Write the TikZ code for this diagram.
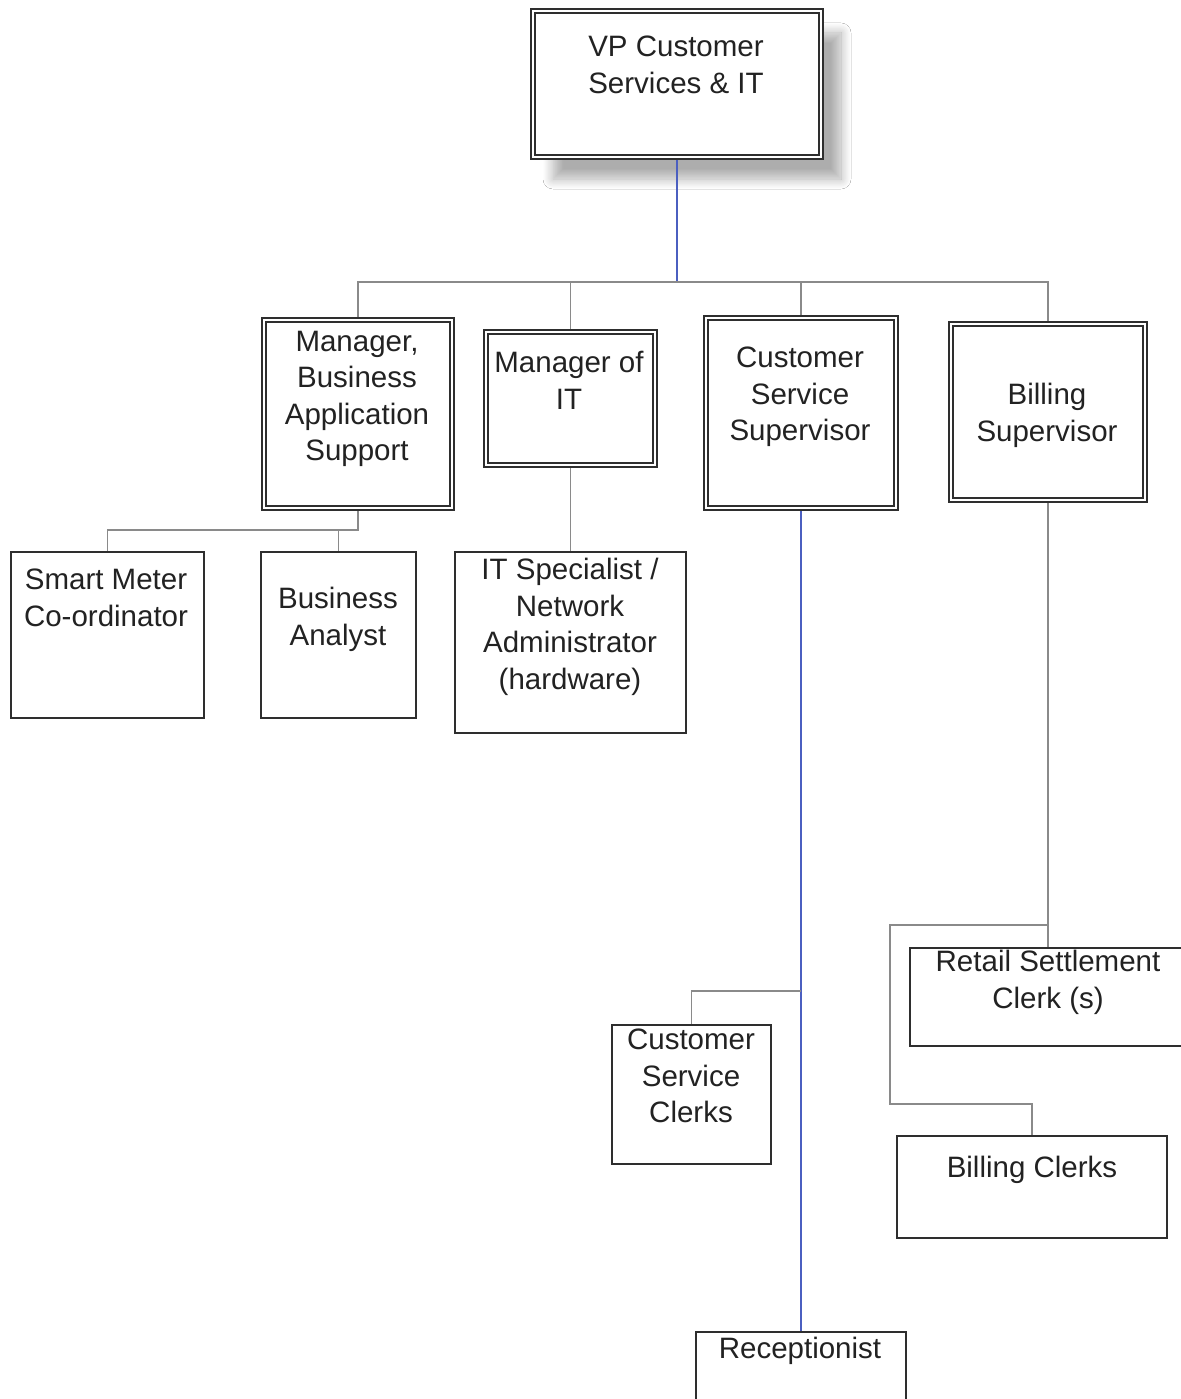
\documentclass[tikz,border=0pt]{standalone}
\usepackage{fontspec}
\setmainfont{Liberation Sans}
\usetikzlibrary{shadows.blur}
\definecolor{ink}{HTML}{222222}
\definecolor{edge}{HTML}{2E2E2E}
\definecolor{wiregrey}{HTML}{8A8A8A}
\definecolor{wireblue}{HTML}{4B5FC0}

\begin{document}
\begin{tikzpicture}[x=1pt,y=-1pt,
  post/.style={rectangle, draw=edge, line width=1.5pt, fill=white, inner sep=0pt},
  senior/.style={post, double=white, double distance=2.6pt, line width=1.7pt, outer sep=3pt},
  caption/.style={inner sep=0pt, align=center, text=ink, anchor=north,
                  font=\fontsize{29.5}{36.5}\selectfont},
  greyline/.style={draw=wiregrey, line width=1.6pt},
  blueline/.style={draw=wireblue, line width=1.6pt}]

% page frame
\useasboundingbox (0,0) rectangle (1180,1399);
\fill[white] (0,0) rectangle (1180,1399);

% ---- management boxes (double frames) ----
\node[senior, minimum width=288pt, minimum height=146pt,
      blur shadow={shadow xshift=20pt, shadow yshift=-22pt, shadow blur radius=10pt,
                   shadow blur steps=12, shadow opacity=32}]
      (vp) at (677,84) {};
\node[senior, minimum width=188pt, minimum height=188pt] (mbas) at (358,414) {};
\node[senior, minimum width=169pt, minimum height=133pt] (mit)  at (570.5,398.5) {};
\node[senior, minimum width=190pt, minimum height=190pt] (css)  at (801,413) {};
\node[senior, minimum width=194pt, minimum height=176pt] (bs)   at (1048,412) {};

% ---- staff boxes ----
\node[post, minimum width=193pt, minimum height=166pt] (smc) at (107.5,635) {};
\node[post, minimum width=155pt, minimum height=166pt] (ba)  at (338.5,635) {};
\node[post, minimum width=231pt, minimum height=181pt] (its) at (570.5,642.5) {};
\node[post, minimum width=159pt, minimum height=139pt] (csc) at (691.5,1094.5) {};
\node[post, minimum width=210pt, minimum height=88pt]  (rec) at (801,1376) {};
\node[post, minimum width=276pt, minimum height=98pt]  (rsc) at (1048,997) {};
\node[post, minimum width=270pt, minimum height=102pt] (bc)  at (1032,1187) {};

% ---- captions ----
\node[caption] (vpT)   at (676,36)   {VP Customer\\Services \& IT};
\node[caption] (mbasT) at (357,331)  {Manager,\\Business\\Application\\Support};
\node[caption] (mitT)  at (569,351)  {Manager of\\IT};
\node[caption] (cssT)  at (800,347)  {Customer\\Service\\Supervisor};
\node[caption] (bsT)   at (1047,383) {Billing\\Supervisor};
\node[caption] (smcT)  at (106,569)  {Smart Meter\\Co-ordinator};
\node[caption] (baT)   at (338,587)  {Business\\Analyst};
\node[caption] (itsT)  at (570,558)  {IT Specialist /\\Network\\Administrator\\(hardware)};
\node[caption] (cscT)  at (691,1029) {Customer\\Service\\Clerks};
\node[caption] (recT)  at (800,1337) {Receptionist};
\node[caption] (rscT)  at (1048,950) {Retail Settlement\\Clerk (s)};
\node[caption] (bcT)   at (1032,1156) {Billing Clerks};

% ---- reporting lines ----
\coordinate (bus) at (677,282);
\draw[blueline] (vp.south) -- (bus);
\draw[greyline] (mbas.north) -- (mbas.north |- bus) -- (bs.north |- bus) -- (bs.north);
\draw[greyline] (mit.north |- bus) -- (mit.north);
\draw[greyline] (css.north |- bus) -- (css.north);

\coordinate (mbasJoin) at (358,530);
\draw[greyline] (mbas.south) -- (mbasJoin) -| (smc.north);
\draw[greyline] (ba.north |- mbasJoin) -- (ba.north);

\draw[greyline] (mit.south) -- (its.north);

\coordinate (cssJoin) at (801,991);
\draw[blueline] (css.south) -- (rec.north);
\draw[greyline] (cssJoin) -| (csc.north);

\coordinate (bsJoin) at (1048,925);
\coordinate (bsLoop) at (890,1104);
\draw[greyline] (bs.south) -- (rsc.north);
\draw[greyline] (bsJoin) -| (bsLoop) -| (bc.north);
\end{tikzpicture}
\end{document}
